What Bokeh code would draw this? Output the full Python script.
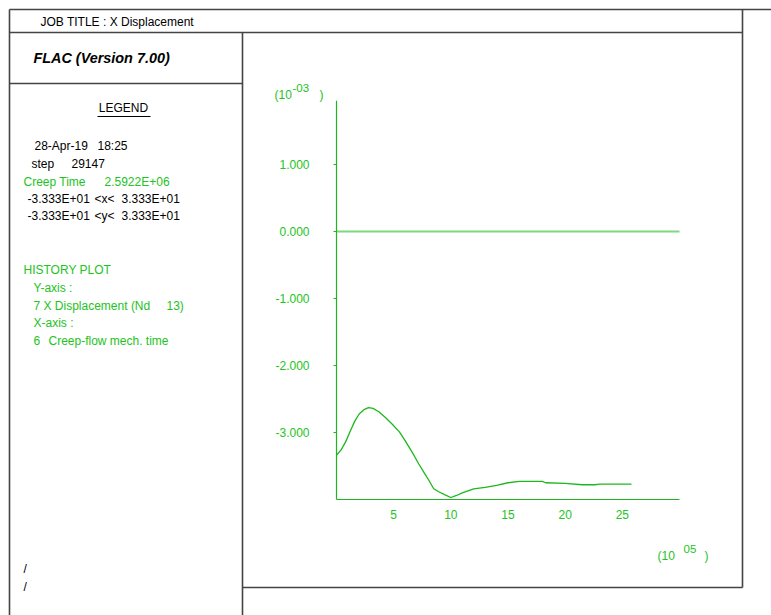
from bokeh.plotting import figure
from bokeh.models import Range1d, ColumnDataSource
from bokeh.core.properties import value
from bokeh.embed import file_html
from bokeh.resources import INLINE

# History: creep-flow time (x 1e5) vs X displacement (x 1e-3)
time_e5 = [0.0, 0.4, 0.8, 1.2, 1.6, 2.0, 2.4, 2.8, 3.2, 3.7, 4.3, 4.9, 5.5, 6.0,
           6.6, 7.2, 7.7, 8.1, 8.5, 8.9, 9.5, 10.0, 10.5, 11.0, 12.0, 13.0,
           14.0, 15.0, 16.0, 17.0, 18.0, 18.3, 20.0, 21.5, 22.6, 23.0, 25.8]
xdisp_em3 = [-3.34, -3.26, -3.14, -2.98, -2.83, -2.72, -2.66, -2.63, -2.64, -2.69,
             -2.78, -2.88, -2.99, -3.12, -3.29, -3.47, -3.61, -3.72, -3.84, -3.88,
             -3.93, -3.97, -3.94, -3.90, -3.84, -3.82, -3.79, -3.75, -3.73, -3.73,
             -3.73, -3.75, -3.76, -3.78, -3.78, -3.77, -3.77]

y_ticks = [1.0, 0.0, -1.0, -2.0, -3.0]
y_tick_labels = ["1.000", "0.000", "-1.000", "-2.000", "-3.000"]
x_ticks = [5, 10, 15, 20, 25]
x_tick_labels = ["5", "10", "15", "20", "25"]
x_lim = [0.0, 30.0]
y_lim = [-4.0, 1.95]

W, H = 771, 615
# page position of the data origin and pixels per data unit
ox, oy = 336.0, 231.0
sx, sy = (679.0 - 336.0) / 30.0, 67.0

GREEN = "#22c322"
AXIS_GREEN = "#1fb51f"
ZERO_GREEN = "#7fd87f"
FRAME = "#444444"
FONT = value("Liberation Sans")

p = figure(width=W, height=H, output_backend="svg", toolbar_location=None,
           x_range=Range1d(-ox / sx, (W - ox) / sx),
           y_range=Range1d((oy - H) / sy, oy / sy),
           min_border=0, outline_line_color=None)
p.axis.visible = False
p.grid.visible = False
p.extra_x_ranges = {"px": Range1d(0, W)}
p.extra_y_ranges = {"px": Range1d(H, 0)}

# page frame
fx0 = [9, 9, 742, 9, 242, 9, 242]
fy0 = [9, 9, 9, 32, 32, 83, 587]
fx1 = [771, 9, 742, 742, 242, 242, 742]
fy1 = [9, 615, 587, 32, 615, 83, 587]
p.segment(fx0, fy0, fx1, fy1, line_color=FRAME, line_width=1.6,
          x_range_name="px", y_range_name="px")


def txt(x, y, s, color="black", size="12px", style="normal", align="left"):
    p.text(x=[x], y=[y], text=[s], text_color=color, text_font=FONT,
           text_font_size=size, text_font_style=style, text_align=align,
           text_baseline="middle", x_range_name="px", y_range_name="px")


txt(40, 21, "JOB TITLE : X Displacement")
txt(33, 57, "FLAC (Version 7.00)", size="14.4px", style="bold italic")
txt(123, 107, "LEGEND", align="center")
p.segment([97], [116], [150], [116], line_color="black", line_width=1,
          x_range_name="px", y_range_name="px")

txt(34, 145, "28-Apr-19")
txt(97, 145, "18:25")
txt(31, 163, "step")
txt(71, 163, "29147")
txt(23, 181, "Creep Time", color=GREEN)
txt(104, 181, "2.5922E+06", color=GREEN)
for yy, v in [(198, "<x<"), (215, "<y<")]:
    txt(27, yy, "-3.333E+01")
    txt(94, yy, v)
    txt(121, yy, "3.333E+01")

txt(23, 269, "HISTORY PLOT", color=GREEN)
txt(33, 287, "Y-axis :", color=GREEN)
txt(33, 305, "7 X Displacement (Nd", color=GREEN)
txt(166, 305, "13)", color=GREEN)
txt(33, 322, "X-axis :", color=GREEN)
txt(33, 340, "6", color=GREEN)
txt(48, 340, "Creep-flow mech. time", color=GREEN)
txt(23, 568, "/")
txt(23, 586, "/")

# axis multipliers
txt(274, 94, "(10", color=GREEN)
txt(292, 87, "-03", color=GREEN, size="11.5px")
txt(319, 94, ")", color=GREEN)
txt(657, 555, "(10", color=GREEN)
txt(683, 548, "05", color=GREEN, size="11.5px")
txt(704, 555, ")", color=GREEN)

# zero reference line
p.line(x_lim, [0, 0], line_color=ZERO_GREEN, line_width=2)
# axes
p.line([x_lim[0], x_lim[0]], y_lim, line_color=AXIS_GREEN, line_width=1.2)
p.line(x_lim, [y_lim[0], y_lim[0]], line_color=AXIS_GREEN, line_width=1.2)
tick_len = 3.0 / sx
p.segment([x_lim[0] - tick_len] * len(y_ticks), y_ticks,
          [x_lim[0]] * len(y_ticks), y_ticks, line_color=AXIS_GREEN, line_width=1)

p.text(x=[x_lim[0] - 27.0 / sx] * len(y_ticks), y=y_ticks, text=y_tick_labels,
       text_color=GREEN, text_font=FONT, text_font_size="12px",
       text_align="right", text_baseline="middle")
p.text(x=x_ticks, y=[y_lim[0] - 15.0 / sy] * len(x_ticks), text=x_tick_labels,
       text_color=GREEN, text_font=FONT, text_font_size="12px",
       text_align="center", text_baseline="middle")

src = ColumnDataSource(dict(t=time_e5, d=xdisp_em3))
p.line("t", "d", source=src, line_color="#1cb81c", line_width=1.3)

open("out.html", "w").write(file_html(p, INLINE))
